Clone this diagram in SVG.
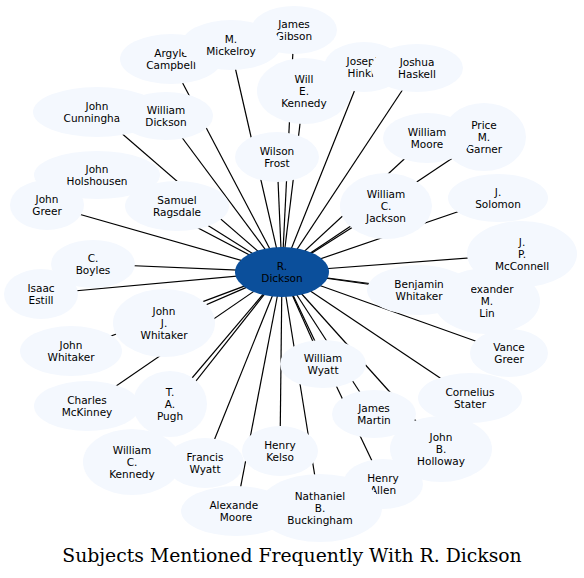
<svg xmlns="http://www.w3.org/2000/svg" width="584" height="578" viewBox="0 0 584 578">
<style>
.n ellipse{fill:#f4f8fe;stroke:none}
.n text{font-family:"DejaVu Sans",sans-serif;font-size:10.5px;fill:#000;text-anchor:middle}
#connectors path{stroke:#000;stroke-width:1.2;fill:none}
.c ellipse{fill:#0b4f9b}
.title{font-family:"DejaVu Serif",serif;font-size:18.8px;fill:#000;text-anchor:middle}
</style>
<rect width="584" height="578" fill="#fff"/>
<g id="connectors">
<path d="M282,272L294,30"/>
<path d="M282,272L170,59"/>
<path d="M282,272L230,45"/>
<path d="M282,272L304,91"/>
<path d="M282,272L277,157"/>
<path d="M282,272L364,67"/>
<path d="M282,272L417,68"/>
<path d="M282,272L97,112"/>
<path d="M282,272L166,116"/>
<path d="M282,272L97,175"/>
<path d="M282,272L47,205"/>
<path d="M282,272L177,206"/>
<path d="M282,272L484,137"/>
<path d="M282,272L386,206"/>
<path d="M282,272L427,138"/>
<path d="M282,272L498,198"/>
<path d="M282,272L487,301"/>
<path d="M282,272L522,254"/>
<path d="M282,272L419,290"/>
<path d="M282,272L93,264"/>
<path d="M282,272L41,294"/>
<path d="M282,272L87,406"/>
<path d="M282,272L164,323"/>
<path d="M282,272L71,351"/>
<path d="M282,272L509,353"/>
<path d="M282,272L374,414"/>
<path d="M282,272L383,484"/>
<path d="M282,272L323,364"/>
<path d="M282,272L470,398"/>
<path d="M282,272L441,449"/>
<path d="M282,272L170,404"/>
<path d="M282,272L132,462"/>
<path d="M282,272L205,463"/>
<path d="M282,272L280,451"/>
<path d="M282,272L236,511"/>
<path d="M282,272L320,508"/>
</g>
<g id="james-gibson" class="n"><ellipse cx="294" cy="30" rx="43" ry="24"/><text x="294" y="27.6">James</text><text x="294" y="39.6">Gibson</text></g>
<g id="argyle-campbell" class="n"><ellipse cx="171" cy="59" rx="51" ry="25"/><text x="171" y="56.6">Argyle</text><text x="171" y="68.6">Campbell</text></g>
<g id="m-mickelroy" class="n"><ellipse cx="231" cy="45" rx="50" ry="25"/><text x="231" y="42.6">M.</text><text x="231" y="54.6">Mickelroy</text></g>
<g id="will-e-kennedy" class="n"><ellipse cx="304" cy="91" rx="47" ry="33"/><text x="304" y="82.6">Will</text><text x="304" y="94.6">E.</text><text x="304" y="106.6">Kennedy</text></g>
<g id="wilson-frost" class="n"><ellipse cx="277" cy="157" rx="42" ry="25"/><text x="277" y="154.6">Wilson</text><text x="277" y="166.6">Frost</text></g>
<g id="joseph-hinkle" class="n"><ellipse cx="364" cy="67" rx="40" ry="25"/><text x="364" y="64.6">Joseph</text><text x="364" y="76.6">Hinkle</text></g>
<g id="joshua-haskell" class="n"><ellipse cx="417" cy="68" rx="46" ry="24"/><text x="417" y="65.6">Joshua</text><text x="417" y="77.6">Haskell</text></g>
<g id="john-cunningham" class="n"><ellipse cx="97" cy="112" rx="64" ry="25"/><text x="97" y="109.6">John</text><text x="97" y="121.6">Cunningham</text></g>
<g id="william-dickson" class="n"><ellipse cx="166" cy="116" rx="47" ry="24"/><text x="166" y="113.6">William</text><text x="166" y="125.6">Dickson</text></g>
<g id="john-holshousen" class="n"><ellipse cx="97" cy="175" rx="63" ry="24"/><text x="97" y="172.6">John</text><text x="97" y="184.6">Holshousen</text></g>
<g id="john-greer" class="n"><ellipse cx="47" cy="205" rx="37" ry="25"/><text x="47" y="202.6">John</text><text x="47" y="214.6">Greer</text></g>
<g id="samuel-ragsdale" class="n"><ellipse cx="177" cy="206" rx="52" ry="25"/><text x="177" y="203.6">Samuel</text><text x="177" y="215.6">Ragsdale</text></g>
<g id="price-m-garner" class="n"><ellipse cx="484" cy="137" rx="42" ry="34"/><text x="484" y="128.6">Price</text><text x="484" y="140.6">M.</text><text x="484" y="152.6">Garner</text></g>
<g id="william-c-jackson" class="n"><ellipse cx="386" cy="206" rx="46" ry="33"/><text x="386" y="197.6">William</text><text x="386" y="209.6">C.</text><text x="386" y="221.6">Jackson</text></g>
<g id="william-moore" class="n"><ellipse cx="427" cy="138" rx="44" ry="25"/><text x="427" y="135.6">William</text><text x="427" y="147.6">Moore</text></g>
<g id="j-solomon" class="n"><ellipse cx="498" cy="198" rx="50" ry="24"/><text x="498" y="195.6">J.</text><text x="498" y="207.6">Solomon</text></g>
<g id="alexander-m-lin" class="n"><ellipse cx="487" cy="301" rx="53" ry="33"/><text x="487" y="292.6">Alexander</text><text x="487" y="304.6">M.</text><text x="487" y="316.6">Lin</text></g>
<g id="j-p-mcconnell" class="n"><ellipse cx="522" cy="254" rx="55" ry="33"/><text x="522" y="245.6">J.</text><text x="522" y="257.6">P.</text><text x="522" y="269.6">McConnell</text></g>
<g id="benjamin-whitaker" class="n"><ellipse cx="419" cy="290" rx="52" ry="25"/><text x="419" y="287.6">Benjamin</text><text x="419" y="299.6">Whitaker</text></g>
<g id="c-boyles" class="n"><ellipse cx="93" cy="264" rx="42" ry="24"/><text x="93" y="261.6">C.</text><text x="93" y="273.6">Boyles</text></g>
<g id="isaac-estill" class="n"><ellipse cx="41" cy="294" rx="37" ry="25"/><text x="41" y="291.6">Isaac</text><text x="41" y="303.6">Estill</text></g>
<g id="charles-mckinney" class="n"><ellipse cx="87" cy="406" rx="53" ry="25"/><text x="87" y="403.6">Charles</text><text x="87" y="415.6">McKinney</text></g>
<g id="john-j-whitaker" class="n"><ellipse cx="164" cy="323" rx="51" ry="34"/><text x="164" y="314.6">John</text><text x="164" y="326.6">J.</text><text x="164" y="338.6">Whitaker</text></g>
<g id="john-whitaker" class="n"><ellipse cx="71" cy="351" rx="51" ry="25"/><text x="71" y="348.6">John</text><text x="71" y="360.6">Whitaker</text></g>
<g id="vance-greer" class="n"><ellipse cx="509" cy="353" rx="39" ry="24"/><text x="509" y="350.6">Vance</text><text x="509" y="362.6">Greer</text></g>
<g id="james-martin" class="n"><ellipse cx="374" cy="414" rx="42" ry="24"/><text x="374" y="411.6">James</text><text x="374" y="423.6">Martin</text></g>
<g id="henry-allen" class="n"><ellipse cx="383" cy="484" rx="40" ry="25"/><text x="383" y="481.6">Henry</text><text x="383" y="493.6">Allen</text></g>
<g id="william-wyatt" class="n"><ellipse cx="323" cy="364" rx="43" ry="24"/><text x="323" y="361.6">William</text><text x="323" y="373.6">Wyatt</text></g>
<g id="cornelius-stater" class="n"><ellipse cx="470" cy="398" rx="52" ry="25"/><text x="470" y="395.6">Cornelius</text><text x="470" y="407.6">Stater</text></g>
<g id="john-b-holloway" class="n"><ellipse cx="441" cy="449" rx="51" ry="33"/><text x="441" y="440.6">John</text><text x="441" y="452.6">B.</text><text x="441" y="464.6">Holloway</text></g>
<g id="t-a-pugh" class="n"><ellipse cx="170" cy="404" rx="37" ry="33"/><text x="170" y="395.6">T.</text><text x="170" y="407.6">A.</text><text x="170" y="419.6">Pugh</text></g>
<g id="william-c-kennedy" class="n"><ellipse cx="132" cy="462" rx="49" ry="33"/><text x="132" y="453.6">William</text><text x="132" y="465.6">C.</text><text x="132" y="477.6">Kennedy</text></g>
<g id="francis-wyatt" class="n"><ellipse cx="205" cy="463" rx="39" ry="25"/><text x="205" y="460.6">Francis</text><text x="205" y="472.6">Wyatt</text></g>
<g id="henry-kelso" class="n"><ellipse cx="280" cy="451" rx="38" ry="25"/><text x="280" y="448.6">Henry</text><text x="280" y="460.6">Kelso</text></g>
<g id="alexander-moore" class="n"><ellipse cx="236" cy="511" rx="55" ry="25"/><text x="236" y="508.6">Alexander</text><text x="236" y="520.6">Moore</text></g>
<g id="nathaniel-b-buckingham" class="n"><ellipse cx="320" cy="508" rx="62" ry="34"/><text x="320" y="499.6">Nathaniel</text><text x="320" y="511.6">B.</text><text x="320" y="523.6">Buckingham</text></g>
<g id="r-dickson" class="n c"><ellipse cx="282" cy="272" rx="47" ry="25"/><text x="282" y="269.6">R.</text><text x="282" y="281.6">Dickson</text></g>
<text class="title" x="292" y="562">Subjects Mentioned Frequently With R. Dickson</text>
</svg>
